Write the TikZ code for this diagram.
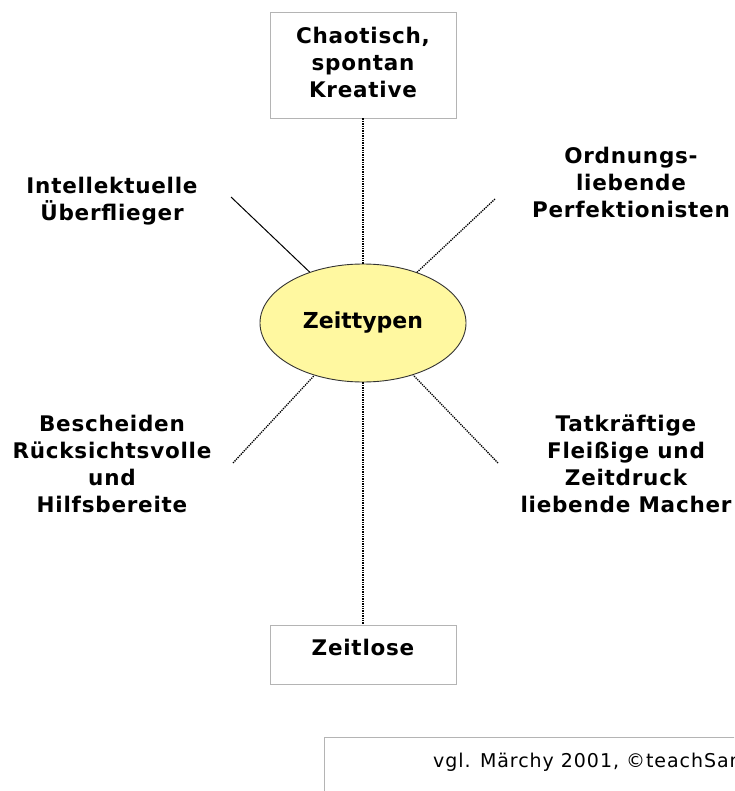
\documentclass[tikz,border=0pt]{standalone}
\usepackage{fontspec}
\setmainfont{DejaVu Sans}
\newfontfamily\lblfont[LetterSpace=3.5]{DejaVu Sans}
\newfontfamily\footfont[LetterSpace=5]{DejaVu Sans}
\usetikzlibrary{shapes.geometric}
\definecolor{ellfill}{RGB}{255,248,160}
\definecolor{boxgray}{RGB}{180,180,180}
\tikzset{
  lbl/.style={font=\lblfont\bfseries\fontsize{21.5}{27}\selectfont, align=center, inner sep=0pt},
  frame/.style={draw=boxgray, line width=0.9pt, fill=white},
  dotline/.style={line width=1.3pt, densely dotted},
  vline/.style={line width=1.4pt, densely dotted},
  solidline/.style={line width=1pt}
}
\begin{document}
\begin{tikzpicture}[x=1pt,y=-1pt]
\clip (0,0) rectangle (734,791);
\fill[white] (0,0) rectangle (734,791);
% nodes
\node[frame, lbl, minimum width=186pt, minimum height=106pt, text depth=6pt] (top) at (363,65) {Chaotisch,\\spontan\\Kreative};
\node[ellipse, draw=black!80, line width=0.9pt, fill=ellfill, minimum width=206pt, minimum height=118pt, font=\bfseries\fontsize{22}{27}\selectfont, inner sep=0pt] (center) at (363,323) {Zeittypen};
\node[frame, lbl, minimum width=186pt, minimum height=59pt, text height=16pt, text depth=15pt] (bottom) at (363,654.5) {Zeitlose};
\node[lbl] (intel) at (112,201) {Intellektuelle\\Überflieger};
\node[lbl] (ordn) at (631,182) {Ordnungs-\\liebende\\Perfektionisten};
\node[lbl] (besch) at (112,464) {Bescheiden\\Rücksichtsvolle\\und\\Hilfsbereite};
\node[lbl] (tat) at (626,464) {Tatkräftige\\Fleißige und\\Zeitdruck\\liebende Macher};
\node[frame, anchor=north west, minimum width=460pt, minimum height=80pt, inner sep=0pt] (footbox) at (324,737) {};
\node[anchor=west, font=\footfont\fontsize{19}{22}\selectfont, inner sep=0pt] (foot) at (433,762) {vgl. Märchy 2001, ©teachSam};
% free ends
\coordinate (ul) at (231,197);
\coordinate (ur) at (495,199);
\coordinate (ll) at (233,463);
\coordinate (lr) at (498,463);
% connectors
\draw[vline] (top.south) -- (center.north);
\draw[vline] (center.south) -- (bottom.north);
\draw[solidline] (ul) -- (center);
\draw[dotline] (ur) -- (center);
\draw[dotline] (ll) -- (center);
\draw[dotline] (lr) -- (center);
\end{tikzpicture}
\end{document}
